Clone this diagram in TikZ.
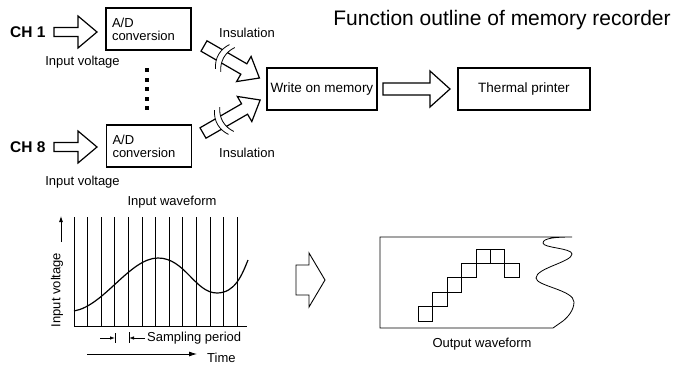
\documentclass[tikz,border=0pt]{standalone}
\usepackage{fontspec}
\setmainfont{Liberation Sans}
\usetikzlibrary{arrows.meta}

% outlined block arrow: [style]{x}{y}{angle}{length}{shaft half}{head half}{head length}
\newcommand\fatarrow[8][]{%
	\begin{scope}[shift={(#2,#3)},rotate=#4]
		\draw[fat,#1] (0,#6)--({#5-#8},#6)--({#5-#8},#7)--(#5,0)--({#5-#8},-#7)--({#5-#8},-#6)--(0,-#6)--cycle;
	\end{scope}}
% insulation break on a slanted arrow
\newcommand\insmark[3]{%
	\begin{scope}[shift={(#1,#2)},rotate=#3]
		\fill[white] (0,-14) .. controls (-6,-5) and (-6,5) .. (0,14)--(6,14) .. controls (0,5) and (0,-5) .. (6,-14)--cycle;
		\draw[line width=0.8pt] (0,-14) .. controls (-6,-5) and (-6,5) .. (0,14);
		\draw[line width=0.8pt] (6,-14) .. controls (0,-5) and (0,5) .. (6,14);
	\end{scope}}

\begin{document}
\begin{tikzpicture}[x=1pt,y=-1pt,
	txt/.style={font=\fontsize{13}{14}\selectfont,inner sep=0pt},
	chtxt/.style={font=\fontsize{15.5}{16}\selectfont\bfseries,inner sep=0pt,anchor=west},
	adbox/.style={draw,line width=1.4pt,minimum height=42pt,text width=73pt,inner xsep=6pt,align=left,font=\fontsize{13}{13}\selectfont},
	blockbox/.style={draw,line width=1.4pt,minimum height=42pt,inner sep=0pt,font=\fontsize{13.5}{14}\selectfont},
	fat/.style={line width=1.2pt,fill=white,line join=miter},
	gridline/.style={line width=0.8pt}]
	
	\useasboundingbox (0,0) rectangle (689,367);
	
	\node[font=\fontsize{21}{22}\selectfont,anchor=base] (title) at (502,25) {Function outline of memory recorder};
	
	% channels
	\node[chtxt] (ch1) at (10,32) {CH 1};
	\node[chtxt] (ch8) at (10,147) {CH 8};
	\fatarrow{54}{32}{0}{43}{4.5}{16}{19}
	\fatarrow{54}{147}{0}{43}{4.5}{16}{19}
	\node[adbox] (adc1) at (148.5,29) {A/D\\conversion};
	\node[adbox] (adc8) at (149,146) {A/D\\conversion};
	\node[txt] (inv1) at (82.5,62) {Input voltage};
	\node[txt] (inv8) at (82.5,182) {Input voltage};
	\foreach \k in {0,...,4}
	{
		\fill (145,{68+9.6*\k}) rectangle ++(4,4);
	}
	
	% insulation
	\fatarrow{204}{46}{-30}{64}{6}{14.5}{18}
	\insmark{222.5}{56.7}{-30}
	\fatarrow{203}{133}{30}{66}{6}{14.5}{18}
	\insmark{221.5}{122.3}{30}
	\node[txt] (ins1) at (247,33) {Insulation};
	\node[txt] (ins8) at (247,153) {Insulation};
	
	\node[blockbox,minimum width=110pt] (wom) at (322,89) {Write on memory};
	\fatarrow{383}{89}{0}{67}{6}{18}{20}
	\node[blockbox,minimum width=132pt] (tprn) at (524,89) {Thermal printer};
	
	% input waveform
	\node[txt] (inwave) at (172,202) {Input waveform};
	\foreach \i in {1,...,12}
	{
		\draw[gridline] ({74+13.6*\i},217)--({74+13.6*\i},326);
	}
	\draw[gridline] (74,217)--(74,326)--(247,326);
	\draw[line width=1.2pt] (74,311) .. controls (104,306) and (130,258) .. (158,258) .. controls (185,258) and (195,293) .. (217,293) .. controls (235,293) and (242,275) .. (248,260);
	\node[txt,rotate=90] (involt) at (57,290) {Input voltage};
	\coordinate (va) at (61,242);
	\coordinate (vb) at (61,216);
	\draw[gridline,-{Latex[length=6pt,width=4pt]}] (va)--(vb);
	
	\coordinate (sa) at (100,338);
	\coordinate (ta) at (115,338);
	\coordinate (tb) at (129,338);
	\coordinate (sb) at (145,338);
	\draw[gridline] (115,333)--(115,343);
	\draw[gridline] (129,332)--(129,343);
	\draw[gridline,-{Latex[length=5pt,width=3.5pt]}] (sa)--(ta);
	\draw[gridline,-{Latex[length=5pt,width=3.5pt]}] (sb)--(tb);
	\node[txt,anchor=west] (samp) at (147,338) {Sampling period};
	\coordinate (ts) at (87,354);
	\coordinate (te) at (197,354);
	\draw[gridline,-{Latex[length=8pt,width=5pt]}] (ts)--(te);
	\node[txt,anchor=west] (time) at (207,358) {Time};
	
	\fatarrow[line width=0.9pt]{296}{280}{0}{29}{15}{27}{16}
	
	% output waveform
	\draw[gridline] (572,237)--(380,237)--(380,328)--(553,328)--(563,321) .. controls (568,317) and (574,310) .. (574,302) .. controls (574,290) and (536,286) .. (536,278) .. controls (536,268) and (572,262) .. (572,254) .. controls (572,248) and (543,248) .. (543,243) .. controls (543,238) and (556,237) .. (572,237);
	\foreach \c/\r in {0/0,1/1,2/2,3/3,4/4,5/4,6/3}
	{
		\draw[gridline] ({418.3+14.4*\c},{321-14.4*\r}) rectangle ++(14.4,-14.4);
	}
	\node[txt] (outwave) at (482,344) {Output waveform};
	
\end{tikzpicture}
\end{document}
